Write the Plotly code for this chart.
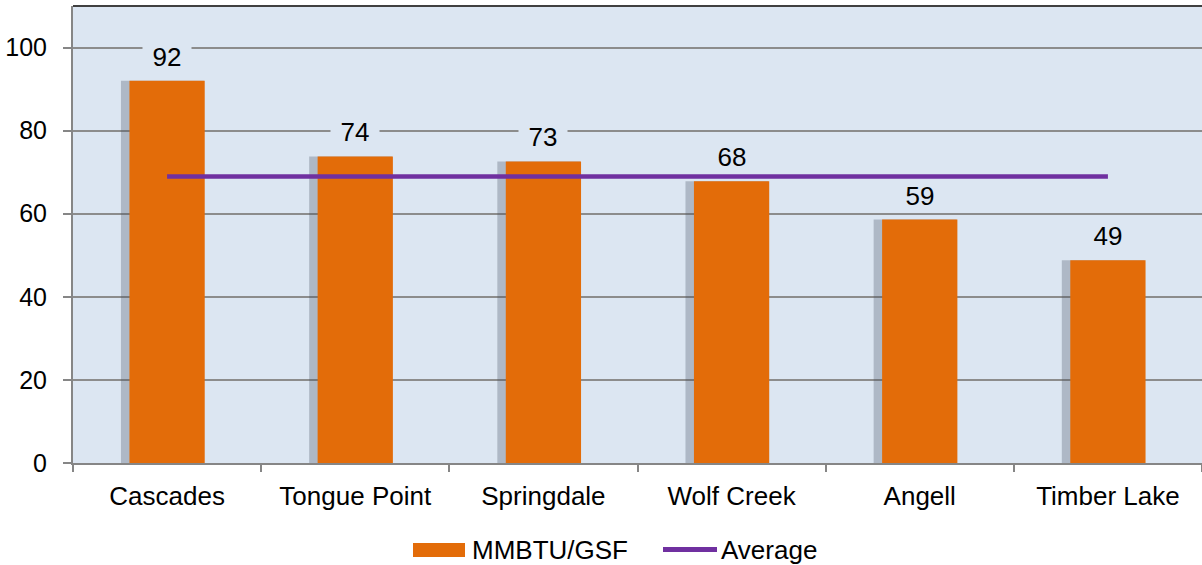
import plotly.graph_objects as go

categories = ["Cascades", "Tongue Point", "Springdale", "Wolf Creek", "Angell", "Timber Lake"]
mmbtu_gsf = [92.0, 73.8, 72.6, 67.8, 58.6, 48.8]
series_name = "MMBTU/GSF"
avg_name = "Average"
y_ticks = [0, 20, 40, 60, 80, 100]

average = sum(mmbtu_gsf) / len(mmbtu_gsf)

W, H = 1202, 565
ML, MR, MT, MB = 73, 0, 6, 102
PW, PH = W - ML - MR, H - MT - MB

def px(x):
    return (x - ML) / PW

def py(y):
    return (H - MB - y) / PH

FONT = "Arial, Liberation Sans, sans-serif"
ORANGE = "#E36C09"
PURPLE = "#7030A0"
BG = "#DCE6F2"

fig = go.Figure()

# subtle shadow behind bars
fig.add_trace(go.Bar(
    x=categories, y=mmbtu_gsf, width=0.44, offset=-0.245,
    marker=dict(color="rgba(70,80,95,0.30)", line=dict(width=0)),
    hoverinfo="skip", showlegend=False,
))
fig.add_trace(go.Bar(
    x=categories, y=mmbtu_gsf, name=series_name, width=0.40, offset=-0.20,
    marker=dict(color=ORANGE, line=dict(width=0)),
    showlegend=False,
))
fig.add_trace(go.Scatter(
    x=categories, y=[average] * len(categories), name=avg_name, mode="lines",
    line=dict(color=PURPLE, width=4.5), showlegend=False,
))

for c, v in zip(categories, mmbtu_gsf):
    fig.add_annotation(
        x=c, y=v, text=f"{round(v)}", showarrow=False, yanchor="middle",
        yshift=24, bgcolor=BG, width=46, height=30,
        font=dict(family=FONT, size=26, color="#000"),
    )

# top border
fig.add_shape(type="line", xref="paper", yref="paper", x0=0, x1=1, y0=1, y1=1,
              line=dict(color="#404040", width=2))

# custom legend
fig.add_shape(type="rect", xref="paper", yref="paper",
              x0=px(413), x1=px(465), y0=py(557), y1=py(543),
              fillcolor=ORANGE, line=dict(width=0))
fig.add_annotation(xref="paper", yref="paper", x=px(470), y=py(550), text=series_name,
                   showarrow=False, xanchor="left", yanchor="middle",
                   font=dict(family=FONT, size=26, color="#000"))
fig.add_shape(type="line", xref="paper", yref="paper",
              x0=px(663), x1=px(717), y0=py(549.5), y1=py(549.5),
              line=dict(color=PURPLE, width=5))
fig.add_annotation(xref="paper", yref="paper", x=px(719), y=py(550), text=avg_name,
                   showarrow=False, xanchor="left", yanchor="middle",
                   font=dict(family=FONT, size=26, color="#000"))

fig.update_layout(
    width=W, height=H,
    margin=dict(l=ML, r=MR, t=MT, b=MB, pad=0),
    paper_bgcolor="white", plot_bgcolor=BG,
    font=dict(family=FONT, size=25, color="#000"),
    bargap=0.6, showlegend=False,
)
fig.update_xaxes(
    type="category", tickson="boundaries", ticks="outside", ticklen=7,
    tickcolor="#868686", tickwidth=2, showgrid=False,
    showline=True, linecolor="#868686", linewidth=2,
    tickfont=dict(family=FONT, size=26, color="#000"),
    ticklabelstandoff=9,
)
fig.update_yaxes(
    range=[0, 110], tickvals=y_ticks, ticks="outside", ticklen=8,
    tickcolor="#868686", tickwidth=2, showgrid=True, gridcolor="#8C8C8C",
    gridwidth=1.5, showline=True, linecolor="#868686", linewidth=2,
    zeroline=False, tickfont=dict(family=FONT, size=25, color="#000"),
    ticklabelstandoff=11,
)

fig.write_html("out.html", config={"displayModeBar": False},
               post_script="document.body.style.margin='0';")
